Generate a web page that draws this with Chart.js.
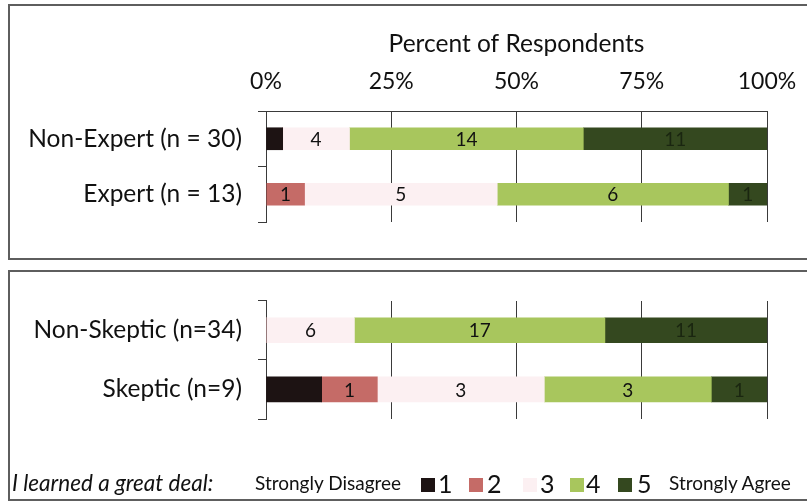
<!DOCTYPE html>
<html>
<head>
<meta charset="utf-8">
<script src="https://cdn.jsdelivr.net/npm/chart.js@4.4.1/dist/chart.umd.min.js"></script>
<style>
    body { margin: 0; background: #fff; font-family: Lato, "Open Sans", sans-serif; }
    #page { position: relative; width: 807px; height: 502px; overflow: hidden; }
    .panel { position: absolute; left: 8px; width: 820px; border: 2px solid #5e5e5e; box-sizing: border-box; }
    #panel-top { top: 4px; height: 256px; }
    #panel-bottom { top: 270px; height: 231px; }
    canvas { position: absolute; left: 0; }
    #legend { position: absolute; top: 470px; left: 0; width: 807px; height: 26px; color: #111; }
    #legend span { position: absolute; white-space: nowrap; }
    .box { width: 14px; height: 14px; top: 8px; }
</style>
</head>
<body>
<div id="page">
    <div class="panel" id="panel-top"></div>
    <div class="panel" id="panel-bottom"></div>
    <canvas id="top-chart" width="807" height="258" style="top:0"></canvas>
    <canvas id="bottom-chart" width="807" height="230" style="top:270px"></canvas>
    <div id="legend"></div>
</div>
<script>
// Survey responses: "I learned a great deal" (counts per answer 1..5)
const levels = ["1", "2", "3", "4", "5"];
const levelColors = ["#1d1313", "#c56b67", "#fcf0f2", "#a8c65d", "#34481f"];

const topGroups = ["Non-Expert (n = 30)", "Expert (n = 13)"];
const topTotals = [30, 13];
const topCounts1 = [1, 0];
const topCounts2 = [0, 1];
const topCounts3 = [4, 5];
const topCounts4 = [14, 6];
const topCounts5 = [11, 1];

const bottomGroups = ["Non-Skeptic (n=34)", "Skeptic (n=9)"];
const bottomTotals = [34, 9];
const bottomCounts1 = [0, 1];
const bottomCounts2 = [0, 1];
const bottomCounts3 = [6, 3];
const bottomCounts4 = [17, 3];
const bottomCounts5 = [11, 1];

const percentTicks = [0, 25, 50, 75, 100];

const FONT = "Lato, 'Open Sans', sans-serif";
const INK = "#111111";
const LINE = "#3a3a3a";

// Write the raw count in the middle of each segment (none on the black ones)
const countLabels = {
    id: "countLabels",
    afterDatasetsDraw(chart) {
        const ctx = chart.ctx;
        ctx.save();
        ctx.font = "19px " + FONT;
        ctx.textAlign = "center";
        ctx.textBaseline = "middle";
        chart.data.datasets.forEach((ds, i) => {
            if (i === 0) return;
            const meta = chart.getDatasetMeta(i);
            meta.data.forEach((bar, j) => {
                const n = ds.counts[j];
                if (!n) return;
                const p = bar.getCenterPoint();
                ctx.fillStyle = i === 4 ? "#1a2610" : INK;
                ctx.fillText(String(n), p.x, p.y + 1);
            });
        });
        ctx.restore();
    }
};

function buildDatasets(countLists, totals, thickness) {
    return countLists.map((counts, i) => ({
        label: levels[i],
        counts: counts,
        data: counts.map((c, j) => c / totals[j] * 100),
        backgroundColor: levelColors[i],
        borderWidth: 0,
        barThickness: thickness,
    }));
}

function createChart(canvasId, groups, datasets, opts) {
    const ctx = document.getElementById(canvasId).getContext("2d");
    return new Chart(ctx, {
        type: "bar",
        data: { labels: groups, datasets: datasets },
        options: {
            indexAxis: "y",
            responsive: false,
            animation: false,
            layout: { padding: { left: 0, right: 40, top: 0, bottom: opts.padBottom } },
            plugins: { legend: { display: false }, tooltip: { enabled: false } },
            scales: {
                x: {
                    stacked: true,
                    position: "top",
                    min: 0,
                    max: 100,
                    afterBuildTicks: scale => { scale.ticks = percentTicks.map(v => ({ value: v })); },
                    afterFit: scale => {
                        scale.height = opts.topHeight;
                        scale.paddingLeft = 0;
                        scale.paddingRight = 0;
                    },
                    ticks: {
                        display: opts.showTicks,
                        callback: v => v + "%",
                        font: { family: FONT, size: 23 },
                        color: INK,
                        padding: 16,
                        maxRotation: 0,
                    },
                    grid: { color: LINE, lineWidth: 1, drawTicks: false },
                    border: { display: opts.showTicks, color: LINE, width: 1 },
                    title: {
                        display: opts.showTicks,
                        text: "Percent of Respondents",
                        font: { family: FONT, size: 24.5 },
                        color: INK,
                        padding: { top: 29, bottom: 0 },
                    },
                },
                y: {
                    stacked: true,
                    afterFit: scale => { scale.width = 266; },
                    ticks: {
                        font: { family: FONT, size: 24.5 },
                        color: INK,
                        padding: 16,
                    },
                    grid: {
                        offset: true,
                        drawOnChartArea: false,
                        drawTicks: true,
                        tickLength: 8,
                        color: LINE,
                    },
                    border: { display: true, color: LINE, width: 1 },
                },
            },
        },
        plugins: [countLabels],
    });
}

createChart(
    "top-chart",
    topGroups,
    buildDatasets([topCounts1, topCounts2, topCounts3, topCounts4, topCounts5], topTotals, 22),
    { padBottom: 36, topHeight: 111, showTicks: true }
);

createChart(
    "bottom-chart",
    bottomGroups,
    buildDatasets([bottomCounts1, bottomCounts2, bottomCounts3, bottomCounts4, bottomCounts5], bottomTotals, 25),
    { padBottom: 81, topHeight: 23, showTicks: false }
);

// Legend row
const legend = document.getElementById("legend");
function addText(text, left, size, extra) {
    const s = document.createElement("span");
    s.textContent = text;
    s.style.left = left + "px";
    s.style.fontSize = size + "px";
    s.style.top = (13 - size * 0.62) + "px";
    if (extra) Object.assign(s.style, extra);
    legend.appendChild(s);
}
addText("I learned a great deal:", 12, 22.5, { fontStyle: "italic" });
addText("Strongly Disagree", 255, 19);
const boxX = [421, 469, 523, 570, 618];
const numX = [438, 487, 540, 586, 637];
levels.forEach((lv, i) => {
    const b = document.createElement("span");
    b.className = "box";
    b.style.left = boxX[i] + "px";
    b.style.background = levelColors[i];
    legend.appendChild(b);
    addText(lv, numX[i], 25);
});
addText("Strongly Agree", 669, 19);
</script>
</body>
</html>
